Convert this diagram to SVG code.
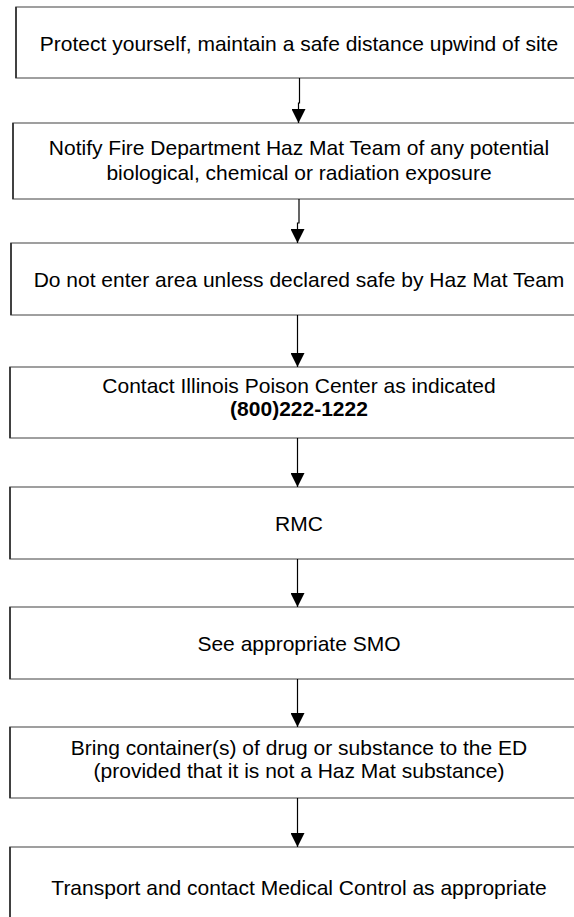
<svg xmlns="http://www.w3.org/2000/svg" width="574" height="917" viewBox="0 0 574 917">
  <defs>
    <style>
      .box rect { fill: #ffffff; stroke: #808080; stroke-width: 1.5; }
      .box .edge { stroke: #222222; stroke-width: 1.5; }
      .box text { font-family: "Liberation Sans", Arial, sans-serif; font-size: 21px; fill: #000000; text-anchor: middle; }
      .box text.bold { font-weight: bold; }
      #connectors path { fill: none; stroke: #000000; stroke-width: 1.2; marker-end: url(#arrow); }
    </style>
    <marker id="arrow" viewBox="0 0 14 14" refX="14" refY="7" markerWidth="14" markerHeight="14" markerUnits="userSpaceOnUse" orient="auto">
      <path d="M0,0 L14,7 L0,14 Z" fill="#000000"/>
    </marker>
  </defs>

  <rect x="0" y="0" width="574" height="917" fill="#ffffff"/>

  <g id="step1" class="box">
    <rect x="16" y="7" width="580" height="71"/>
    <line class="edge" x1="16" y1="7" x2="16" y2="78"/>
    <text x="299" y="51">Protect yourself, maintain a safe distance upwind of site</text>
  </g>

  <g id="step2" class="box">
    <rect x="13" y="123" width="583" height="76"/>
    <line class="edge" x1="13" y1="123" x2="13" y2="199"/>
    <text x="299" y="155">Notify Fire Department Haz Mat Team of any potential</text>
    <text x="299" y="180">biological, chemical or radiation exposure</text>
  </g>

  <g id="step3" class="box">
    <rect x="11" y="243" width="585" height="72"/>
    <line class="edge" x1="11" y1="243" x2="11" y2="315"/>
    <text x="299" y="287">Do not enter area unless declared safe by Haz Mat Team</text>
  </g>

  <g id="step4" class="box">
    <rect x="10" y="367" width="586" height="71"/>
    <line class="edge" x1="10" y1="367" x2="10" y2="438"/>
    <text x="299" y="393">Contact Illinois Poison Center as indicated</text>
    <text class="bold" x="299" y="416">(800)222-1222</text>
  </g>

  <g id="step5" class="box">
    <rect x="10" y="487" width="586" height="72"/>
    <line class="edge" x1="10" y1="487" x2="10" y2="559"/>
    <text x="299" y="531">RMC</text>
  </g>

  <g id="step6" class="box">
    <rect x="10" y="607" width="586" height="72"/>
    <line class="edge" x1="10" y1="607" x2="10" y2="679"/>
    <text x="299" y="651">See appropriate SMO</text>
  </g>

  <g id="step7" class="box">
    <rect x="10" y="727" width="586" height="71"/>
    <line class="edge" x1="10" y1="727" x2="10" y2="798"/>
    <text x="299" y="755">Bring container(s) of drug or substance to the ED</text>
    <text x="299" y="778">(provided that it is not a Haz Mat substance)</text>
  </g>

  <g id="step8" class="box">
    <rect x="10" y="847" width="586" height="90"/>
    <line class="edge" x1="10" y1="847" x2="10" y2="937"/>
    <text x="299" y="895">Transport and contact Medical Control as appropriate</text>
  </g>

  <g id="connectors">
    <path d="M299.5,78 V103 H298.5 V123"/>
    <path d="M299,199 V223 H297.5 V243"/>
    <path d="M297.5,315 V367"/>
    <path d="M297.5,438 V487"/>
    <path d="M297.5,559 V607"/>
    <path d="M297.5,679 V727"/>
    <path d="M297.5,798 V847"/>
  </g>
</svg>
